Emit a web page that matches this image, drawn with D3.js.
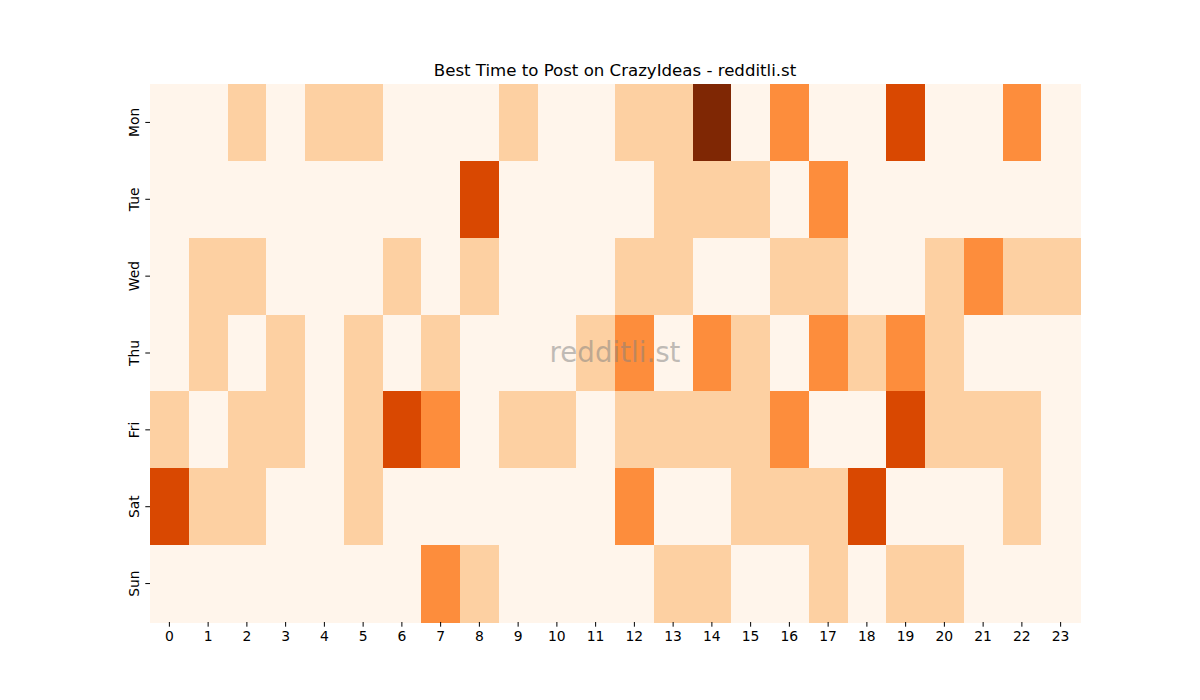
<!DOCTYPE html>
<html>
<head>
<meta charset="utf-8">
<script src="https://cdn.jsdelivr.net/npm/d3@7"></script>
<style>
  body { margin: 0; background: #fff; }
  svg { display: block; font-family: 'DejaVu Sans', sans-serif; }
</style>
</head>
<body>
<svg id="chart" width="1200" height="700"></svg>
<script>
const days = ['Mon', 'Tue', 'Wed', 'Thu', 'Fri', 'Sat', 'Sun'];
const hours = d3.range(24);

// activity level per hour (0 = low .. 4 = peak), one row per day
const mon = [0,0,1,0,1,1,0,0,0,1,0,0,1,1,4,0,2,0,0,3,0,0,2,0];
const tue = [0,0,0,0,0,0,0,0,3,0,0,0,0,1,1,1,0,2,0,0,0,0,0,0];
const wed = [0,1,1,0,0,0,1,0,1,0,0,0,1,1,0,0,1,1,0,0,1,2,1,1];
const thu = [0,1,0,1,0,1,0,1,0,0,0,1,2,0,2,1,0,2,1,2,1,0,0,0];
const fri = [1,0,1,1,0,1,3,2,0,1,1,0,1,1,1,1,2,0,0,3,1,1,1,0];
const sat = [3,1,1,0,0,1,0,0,0,0,0,0,2,0,0,1,1,1,3,0,0,0,1,0];
const sun = [0,0,0,0,0,0,0,2,1,0,0,0,0,1,1,0,0,1,0,1,1,0,0,0];
const rows = [mon, tue, wed, thu, fri, sat, sun];

const M = { top: 84, right: 120, bottom: 78, left: 150 };
const W = 1200, H = 700;

const svg = d3.select('#chart');

const x = d3.scaleBand().domain(hours).range([M.left, W - M.right]);
const y = d3.scaleBand().domain(days).range([M.top, H - M.bottom]);
const color = d3.scaleLinear()
  .domain([0, 1, 2, 3, 4])
  .range(['#fff5eb', '#fdd0a2', '#fd8d3c', '#d94801', '#7f2704']);

const cells = [];
rows.forEach((r, i) => r.forEach((v, h) => cells.push({ day: days[i], hour: h, value: v })));

svg.append('g')
  .selectAll('rect')
  .data(cells)
  .join('rect')
  .attr('x', d => x(d.hour))
  .attr('y', d => y(d.day))
  .attr('width', x.bandwidth() + 0.5)
  .attr('height', y.bandwidth() + 0.5)
  .attr('fill', d => color(d.value))
  .attr('shape-rendering', 'crispEdges');

// Axes
const xAxis = svg.append('g')
  .attr('transform', `translate(0,${H - M.bottom})`)
  .call(d3.axisBottom(x).tickSize(4.7).tickPadding(4));
xAxis.select('.domain').remove();

const yAxis = svg.append('g')
  .attr('transform', `translate(${M.left},0)`)
  .call(d3.axisLeft(y).tickSize(4.7).tickPadding(4));
yAxis.select('.domain').remove();
yAxis.selectAll('text')
  .attr('transform', 'rotate(-90,-11,0)')
  .attr('text-anchor', 'middle')
  .attr('dy', '0em')
  .attr('y', 0)
  .attr('x', -11);

svg.selectAll('.tick text').attr('font-size', 13.9).attr('fill', '#000').attr('font-family', 'DejaVu Sans');
svg.selectAll('.tick line').attr('stroke', '#000').attr('stroke-width', 1);

// Title
svg.append('text')
  .attr('x', (M.left + W - M.right) / 2)
  .attr('y', 76)
  .attr('text-anchor', 'middle')
  .attr('font-size', 16.6)
  .attr('fill', '#000')
  .text('Best Time to Post on CrazyIdeas - redditli.st');

// Watermark
svg.append('text')
  .attr('x', (M.left + W - M.right) / 2)
  .attr('y', 362)
  .attr('text-anchor', 'middle')
  .attr('font-size', 27.7)
  .attr('fill', '#808080')
  .attr('fill-opacity', 0.5)
  .text('redditli.st');
</script>
</body>
</html>
